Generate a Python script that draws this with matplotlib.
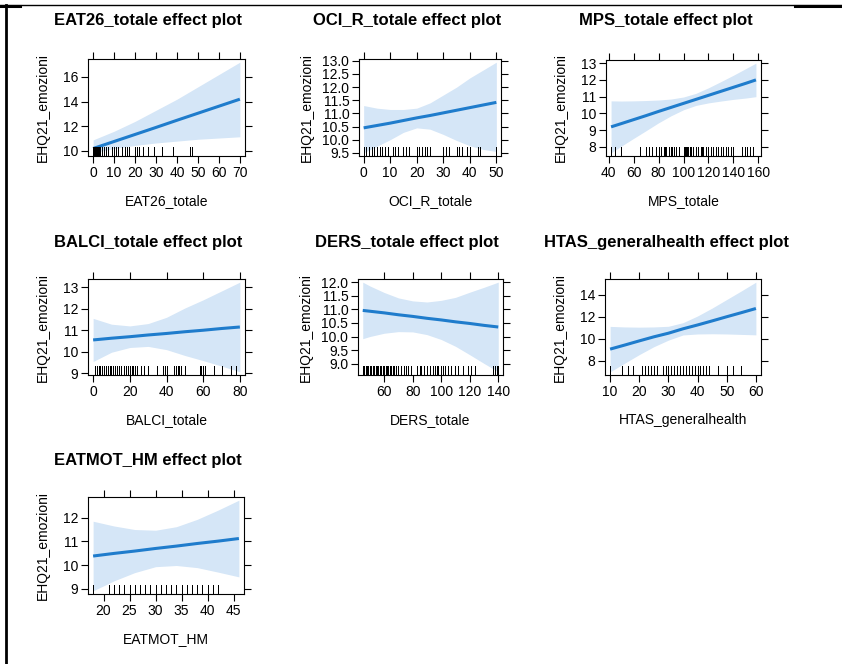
import matplotlib
matplotlib.use("Agg")
import matplotlib.pyplot as plt
from matplotlib.lines import Line2D

plt.rcParams['font.family'] = ['Liberation Sans', 'DejaVu Sans']

response = "EHQ21_emozioni"

# EAT26_totale
eat26_x = [0, 10, 20, 30, 40, 50, 60, 70]
eat26_fit = [10.2, 10.77, 11.34, 11.91, 12.49, 13.06, 13.63, 14.2]
eat26_lower = [9.85, 10.2, 10.45, 10.65, 10.8, 10.95, 11.05, 11.15]
eat26_upper = [10.9, 11.6, 12.4, 13.3, 14.2, 15.2, 16.2, 17.2]
eat26_rug = [0, 0.5, 1, 1.5, 2, 2.5, 3, 3.5, 4, 5, 6, 7, 9, 10, 11, 12, 14, 15, 16, 17,
             20, 21, 22, 24, 26, 29, 33, 38, 46, 47]
eat26_xticks = [0, 10, 20, 30, 40, 50, 60, 70]
eat26_yticks = [10, 12, 14, 16]

# OCI_R_totale
oci_x = [0, 5, 10, 15, 20, 25, 30, 35, 40, 45, 50]
oci_fit = [10.45, 10.54, 10.63, 10.73, 10.83, 10.92, 11.02, 11.12, 11.22, 11.32, 11.42]
oci_lower = [9.5, 9.75, 10.0, 10.28, 10.45, 10.4, 10.2, 9.97, 9.77, 9.63, 9.55]
oci_upper = [11.3, 11.2, 11.15, 11.15, 11.2, 11.4, 11.7, 12.0, 12.35, 12.65, 12.95]
oci_rug = [0, 1, 2, 3, 4, 5, 6, 7, 8, 9, 11, 12, 13, 15, 16, 17, 20, 21, 22, 23, 24, 25,
           30, 31, 32, 35, 36, 37, 39, 40, 43, 44, 50]
oci_xticks = [0, 10, 20, 30, 40, 50]
oci_yticks = [9.5, 10.0, 10.5, 11.0, 11.5, 12.0, 12.5, 13.0]

# MPS_totale
mps_x = [42, 50, 60, 70, 80, 90, 100, 110, 120, 130, 140, 150, 158]
mps_fit = [9.2, 9.39, 9.63, 9.87, 10.12, 10.36, 10.6, 10.84, 11.08, 11.32, 11.56, 11.8, 12.0]
mps_lower = [7.65, 8.04, 8.51, 8.97, 9.44, 9.86, 10.22, 10.48, 10.63, 10.74, 10.84, 10.92, 11.0]
mps_upper = [10.75, 10.74, 10.75, 10.77, 10.8, 10.86, 10.98, 11.2, 11.53, 11.9, 12.28, 12.68, 13.0]
mps_rug = [42, 45, 50, 65, 70, 72, 75, 78, 80, 82, 84, 85, 86, 88, 90, 91, 92, 94, 96,
           100, 101, 102, 103, 104, 105, 106, 108, 110, 112, 114, 115, 116, 118, 120,
           122, 124, 126, 128, 130, 132, 134, 136, 138, 140, 147, 149, 151, 153, 156]
mps_xticks = [40, 60, 80, 100, 120, 140, 160]
mps_yticks = [8, 9, 10, 11, 12, 13]

# BALCI_totale
balci_x = [0, 10, 20, 30, 40, 50, 60, 70, 80]
balci_fit = [10.55, 10.63, 10.7, 10.78, 10.85, 10.93, 11.0, 11.08, 11.15]
balci_lower = [9.55, 9.98, 10.2, 10.25, 10.1, 9.83, 9.59, 9.34, 9.07]
balci_upper = [11.55, 11.28, 11.2, 11.31, 11.6, 12.03, 12.41, 12.82, 13.23]
balci_rug = [1, 2, 3, 4, 5, 6, 7, 8, 9, 10, 11, 12, 13, 14, 15, 17, 18, 19, 20, 21, 22,
             23, 24, 26, 28, 30, 35, 38, 39, 40, 44, 45, 46, 47, 48, 50, 58, 59, 60, 61,
             66, 70, 75, 78]
balci_xticks = [0, 20, 40, 60, 80]
balci_yticks = [9, 10, 11, 12, 13]

# DERS_totale
ders_x = [45, 50, 60, 70, 80, 90, 100, 110, 120, 130, 140]
ders_fit = [10.96, 10.93, 10.87, 10.8, 10.74, 10.67, 10.61, 10.54, 10.48, 10.41, 10.35]
ders_lower = [9.92, 10.0, 10.12, 10.18, 10.17, 10.07, 9.89, 9.64, 9.33, 9.01, 8.7]
ders_upper = [12.0, 11.86, 11.62, 11.42, 11.31, 11.27, 11.33, 11.44, 11.63, 11.81, 12.0]
ders_rug = [45, 46, 47, 48, 49, 50, 51, 52, 53, 54, 55, 56, 57, 58, 59, 60, 61, 62, 63,
            64, 65, 66, 67, 68, 70, 72, 74, 75, 77, 79, 83, 85, 86, 88, 90, 92, 94, 96,
            97, 98, 100, 101, 103, 105, 107, 110, 112, 115, 119, 121, 124, 136, 138,
            139, 140]
ders_xticks = [60, 80, 100, 120, 140]
ders_yticks = [9.0, 9.5, 10.0, 10.5, 11.0, 11.5, 12.0]

# HTAS_generalhealth
htas_x = [10, 15, 20, 25, 30, 35, 40, 45, 50, 55, 60]
htas_fit = [9.05, 9.42, 9.8, 10.17, 10.5, 10.9, 11.25, 11.62, 12.0, 12.37, 12.75]
htas_lower = [6.98, 7.77, 8.55, 9.27, 9.87, 10.34, 10.43, 10.45, 10.43, 10.39, 10.35]
htas_upper = [11.12, 11.07, 11.05, 11.07, 11.13, 11.46, 12.07, 12.79, 13.57, 14.35, 15.15]
htas_rug = [10, 14, 16, 18, 21, 22, 23, 24, 25, 26, 28, 29, 30, 31, 32, 33, 34, 35, 36,
            37, 38, 39, 40, 41, 42, 43, 44, 47, 50, 52, 55]
htas_xticks = [10, 20, 30, 40, 50, 60]
htas_yticks = [8, 10, 12, 14]

# EATMOT_HM
eatmot_x = [18, 22, 26, 30, 34, 38, 42, 46]
eatmot_fit = [10.38, 10.49, 10.59, 10.7, 10.8, 10.91, 11.01, 11.12]
eatmot_lower = [8.91, 9.33, 9.68, 9.93, 9.98, 9.89, 9.7, 9.5]
eatmot_upper = [11.85, 11.65, 11.5, 11.47, 11.62, 11.93, 12.32, 12.74]
eatmot_rug = [18, 21, 22, 23, 24, 25, 26, 27, 28, 29, 30, 31, 32, 33, 34, 35, 36, 37,
              38, 39, 40, 41, 42]
eatmot_xticks = [20, 25, 30, 35, 40, 45]
eatmot_yticks = [9, 10, 11, 12]

panels = [
    ("EAT26_totale", eat26_x, eat26_fit, eat26_lower, eat26_upper, eat26_rug, eat26_xticks, eat26_yticks),
    ("OCI_R_totale", oci_x, oci_fit, oci_lower, oci_upper, oci_rug, oci_xticks, oci_yticks),
    ("MPS_totale", mps_x, mps_fit, mps_lower, mps_upper, mps_rug, mps_xticks, mps_yticks),
    ("BALCI_totale", balci_x, balci_fit, balci_lower, balci_upper, balci_rug, balci_xticks, balci_yticks),
    ("DERS_totale", ders_x, ders_fit, ders_lower, ders_upper, ders_rug, ders_xticks, ders_yticks),
    ("HTAS_generalhealth", htas_x, htas_fit, htas_lower, htas_upper, htas_rug, htas_xticks, htas_yticks),
    ("EATMOT_HM", eatmot_x, eatmot_fit, eatmot_lower, eatmot_upper, eatmot_rug, eatmot_xticks, eatmot_yticks),
]

W, H = 842, 664
# panel boxes in pixels: left, top, width, height
boxes = [(88, 59, 157, 97), (359, 59, 142, 97), (606, 60, 155, 96),
         (88, 279, 157, 96), (358, 279, 145, 96), (605, 279, 156, 96),
         (88, 497, 156, 97)]
title_cx = [148, 407, 666]
title_cy = [20, 242, 460]

line_col = '#1f7ccc'
band_col = '#d5e6f7'

fig = plt.figure(figsize=(W / 100, H / 100), dpi=100)

for i, (name, x, fit, lo, up, rug, xt, yt) in enumerate(panels):
    l, t, w, h = boxes[i]
    ax = fig.add_axes([l / W, 1 - (t + h) / H, w / W, h / H])
    ax.fill_between(x, lo, up, color=band_col, lw=0)
    ax.plot(x, fit, color=line_col, lw=2.2, solid_capstyle='butt')
    # 1 px rug ticks, crisp
    ax.vlines(rug, 0, 0.09, transform=ax.get_xaxis_transform(), color='black', lw=0.72,
              antialiased=False)

    xr = max(x) - min(x)
    ax.set_xlim(min(x) - 0.035 * xr, max(x) + 0.035 * xr)
    ylo, yhi = min(lo), max(up)
    yr = yhi - ylo
    ax.set_ylim(ylo - 0.035 * yr, yhi + 0.035 * yr)

    ax.set_xticks(xt)
    ax.set_yticks(yt)
    decimals = any(v != int(v) for v in yt)
    if decimals:
        ax.set_yticklabels(["%.1f" % v for v in yt])
    else:
        ax.set_yticklabels(["%d" % v for v in yt])
    ax.tick_params(direction='out', length=5, width=0.8, top=True, right=True,
                   labelsize=10, pad=2)
    for s in ax.spines.values():
        s.set_linewidth(0.8)

    col, row = i % 3, i // 3
    fig.text(title_cx[col] / W, 1 - title_cy[row] / H, name + " effect plot",
             fontsize=12, fontweight='bold', ha='center', va='center')
    fig.text((l + w / 2) / W, 1 - (t + h + 45) / H, name, fontsize=10,
             ha='center', va='center')
    off = 52 if decimals else 45
    fig.text((l - off) / W, 1 - (t + h / 2) / H, response, fontsize=10,
             rotation=90, ha='center', va='center')

# frame lines of the surrounding table cell
fig.add_artist(Line2D([0, 1], [1 - 5 / H, 1 - 5 / H], transform=fig.transFigure,
                      color='black', lw=1))
fig.add_artist(Line2D([0, 20 / W], [1 - 5.5 / H, 1 - 5.5 / H], transform=fig.transFigure,
                      color='black', lw=2.2))
fig.add_artist(Line2D([795 / W, 1], [1 - 5.5 / H, 1 - 5.5 / H], transform=fig.transFigure,
                      color='black', lw=2.2))
fig.add_artist(Line2D([6 / W, 6 / W], [0, 1 - 5 / H], transform=fig.transFigure,
                      color='black', lw=2))

fig.savefig("out.png", dpi=100)
